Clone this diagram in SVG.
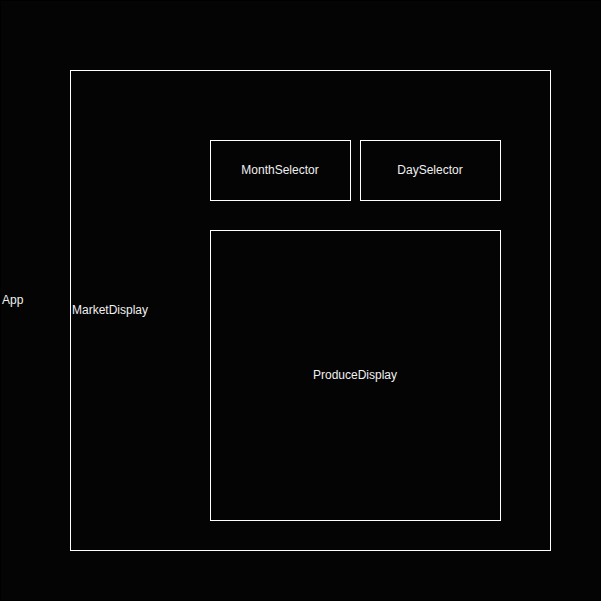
<svg xmlns="http://www.w3.org/2000/svg" width="601" height="601" viewBox="0 0 601 601">
<style>
.box{fill:none;stroke:#ffffff;stroke-width:1}
.lbl{font-family:"Liberation Sans",Arial,sans-serif;font-size:12px;fill:#f0f0f0}
.c{text-anchor:middle}
</style>
<rect x="0" y="0" width="601" height="601" fill="#000"/>
<g id="App">
<rect x="0.5" y="0.5" width="600" height="600" fill="#040404" stroke="#000"/>
<text class="lbl" x="2" y="304">App</text>
</g>
<g id="MarketDisplay">
<rect class="box" x="70.5" y="70.5" width="480" height="480"/>
<text class="lbl" x="72" y="314">MarketDisplay</text>
</g>
<g id="MonthSelector">
<rect class="box" x="210.5" y="140.5" width="140" height="60"/>
<text class="lbl c" x="280" y="174">MonthSelector</text>
</g>
<g id="DaySelector">
<rect class="box" x="360.5" y="140.5" width="140" height="60"/>
<text class="lbl c" x="430" y="174">DaySelector</text>
</g>
<g id="ProduceDisplay">
<rect class="box" x="210.5" y="230.5" width="290" height="290"/>
<text class="lbl c" x="355" y="379">ProduceDisplay</text>
</g>
<g id="connectors"/>
</svg>
